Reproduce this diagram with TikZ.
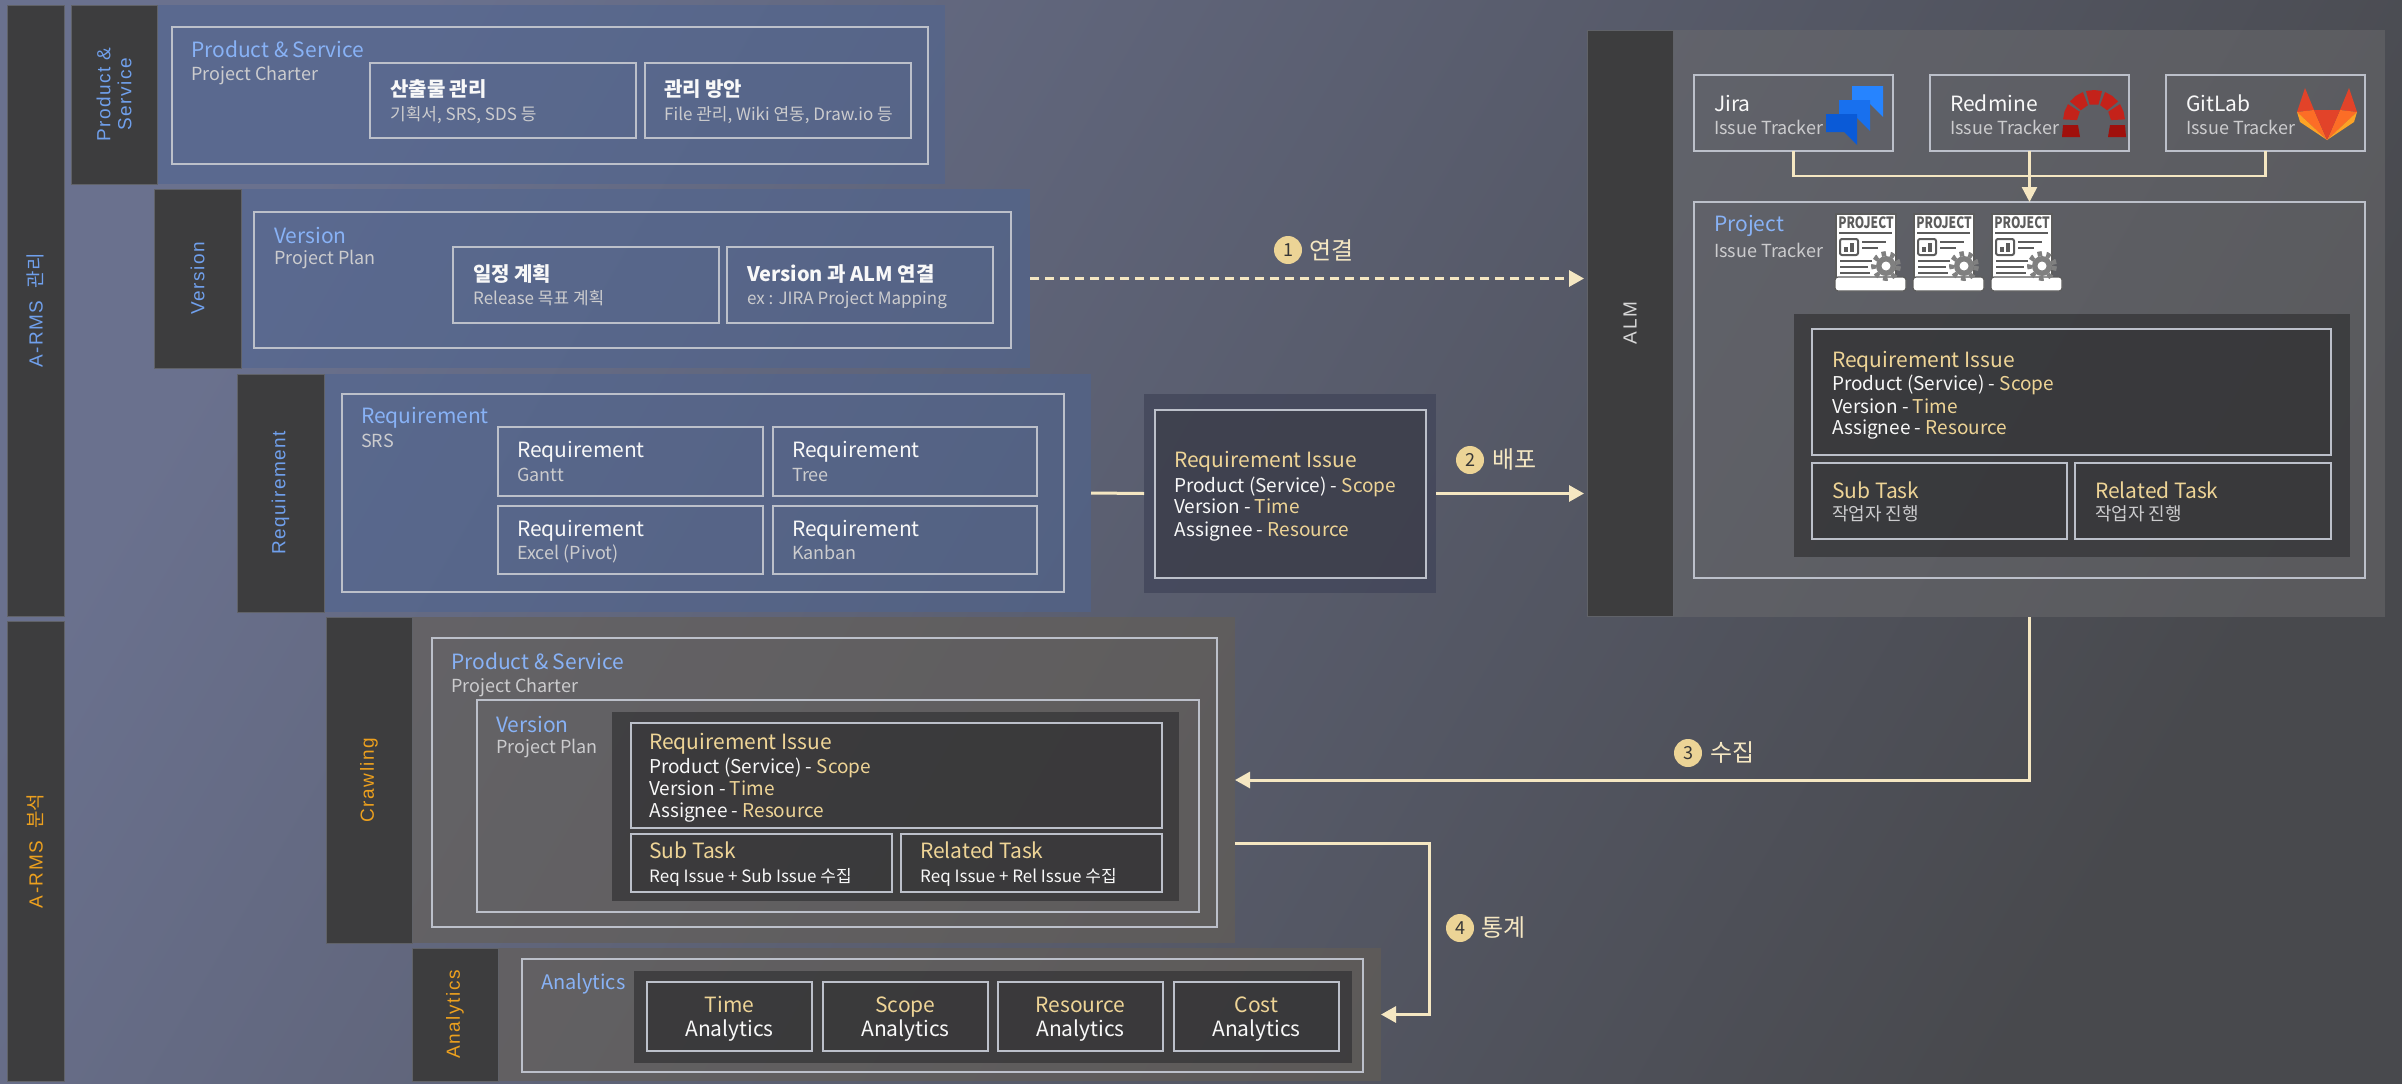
\documentclass[tikz,border=0pt]{standalone}
\usepackage{fontspec}
\usepackage{graphicx}
\setmainfont{Noto Sans CJK KR}
\newfontfamily\labfont{Liberation Sans}[LetterSpace=8]
\newfontfamily\labkr{Noto Sans CJK KR}
\usetikzlibrary{arrows.meta,calc}

\definecolor{bgA}{RGB}{106,113,142}
\definecolor{bgB}{RGB}{72,73,77}
\definecolor{barc}{RGB}{61,61,62}
\definecolor{barline}{RGB}{96,98,104}
\definecolor{bluep}{RGB}{78,100,145}
\definecolor{brownp}{RGB}{100,94,84}
\definecolor{grayp}{RGB}{108,108,110}
\definecolor{darkp}{RGB}{50,50,52}
\definecolor{midp}{RGB}{66,70,90}
\definecolor{frm}{RGB}{188,192,202}
\definecolor{ttlblue}{RGB}{136,178,246}
\definecolor{labblue}{RGB}{112,160,236}
\definecolor{orng}{RGB}{236,160,30}
\definecolor{gold}{RGB}{238,212,150}
\definecolor{cream}{RGB}{245,231,194}
\definecolor{subg}{RGB}{204,204,206}
\definecolor{wht}{RGB}{248,248,248}
\definecolor{badgec}{RGB}{236,212,150}
\definecolor{badgetxt}{RGB}{55,55,55}
\definecolor{docline}{RGB}{92,92,92}
\definecolor{gearc}{RGB}{128,128,128}
\definecolor{almtxt}{RGB}{215,215,215}
\definecolor{jiraA}{RGB}{38,132,255}
\definecolor{jiraB}{RGB}{24,112,238}
\definecolor{jiraC}{RGB}{10,90,215}
\definecolor{redA}{RGB}{196,34,26}
\definecolor{redB}{RGB}{160,16,12}
\definecolor{glA}{RGB}{226,67,41}
\definecolor{glB}{RGB}{252,109,38}
\definecolor{glC}{RGB}{252,163,38}

\newcommand\fT{\fontsize{21}{25}\selectfont}
\newcommand\fS{\fontsize{18}{22}\selectfont}
\newcommand\fB{\fontsize{21}{25}\selectfont}
\newcommand\fK{\fontsize{20}{24}\selectfont\bfseries}
\newcommand\fR{\fontsize{17}{21}\selectfont}
\newcommand\fI{\fontsize{19}{22}\selectfont}
\newcommand\fL{\fontsize{19}{21}\selectfont\labfont}

\newcommand\mkbox[6]{\node[#6, anchor=north west, inner sep=0pt, outer sep=0pt, minimum width={(#4)-(#2)}, minimum height={(#5)-(#3)}] (#1) at (#2,#3) {};}
\newcommand\tx[6]{\node[anchor=base west, inner sep=0pt, text=#4, font=#5] (#1) at (#2,#3) {#6};}

\tikzset{
 bar/.style={fill=barc, draw=barline, line width=1pt},
 bluepanel/.style={fill=bluep, fill opacity=0.55},
 brownpanel/.style={fill=brownp, fill opacity=0.6},
 graypanel/.style={fill=grayp, fill opacity=0.5},
 frame/.style={draw=frm, line width=1.4pt},
 darkpanel/.style={fill=darkp, fill opacity=0.7},
 midpanel/.style={fill=midp, fill opacity=0.8},
 darkbox/.style={fill=darkp, fill opacity=0.35, draw=frm, line width=1.4pt},
 vlab/.style={rotate=90, inner sep=0pt, align=center},
 conn/.style={draw=cream, line width=3pt},
 arr/.style={conn, -{Triangle[length=15pt,width=16pt]}},
 badge/.style={circle, fill=badgec, inner sep=0pt, minimum size=28pt, text=badgetxt, font=\fontsize{18}{18}\selectfont},
 steplab/.style={anchor=west, inner sep=0pt, text=cream, font=\fontsize{24}{24}\selectfont},
}

\begin{document}
\begin{tikzpicture}[x=1pt,y=-1pt]
\useasboundingbox (0,0) rectangle (2402,1084);
\shade[top color=bgA, bottom color=bgB, shading angle=60] (0,0) rectangle (2402,1084);

% ---------- panels ----------
\mkbox{pspanel}{157}{5}{945}{184}{bluepanel}
\mkbox{verpanel}{241}{189}{1030}{368}{bluepanel}
\mkbox{reqpanel}{324}{374}{1091}{612}{bluepanel}
\mkbox{crpanel}{412}{617}{1235}{943}{brownpanel}
\mkbox{anpanel}{498}{948}{1381}{1081}{brownpanel}
\mkbox{almpanel}{1673}{30}{2385}{617}{graypanel}

% ---------- bars ----------
\mkbox{armsA}{7}{5}{64}{616}{bar}
\mkbox{armsB}{7}{621}{64}{1081}{bar}
\mkbox{psbar}{71}{5}{157}{184}{bar}
\mkbox{verbar}{154}{189}{241}{368}{bar}
\mkbox{reqbar}{237}{374}{324}{612}{bar}
\mkbox{crbar}{326}{617}{412}{943}{bar}
\mkbox{anbar}{412}{948}{498}{1081}{bar}
\mkbox{almbar}{1587}{30}{1673}{616}{bar}

\node[vlab, text=labblue, font=\fL] (labA) at (armsA.center) {A-RMS\hspace{12pt}{\labkr 관리}};
\node[vlab, text=orng, font=\fL] (labB) at (armsB.center) {A-RMS\hspace{12pt}{\labkr 분석}};
\node[vlab, text=labblue, font=\fL] (labPS) at (psbar.center) {Product \&\\Service};
\node[vlab, text=labblue, font=\fL] (labV) at (verbar.center) {Version};
\node[vlab, text=labblue, font=\fL] (labR) at (reqbar.center) {Requirement};
\node[vlab, text=orng, font=\fL] (labC) at (crbar.center) {Crawling};
\node[vlab, text=orng, font=\fL] (labAn) at (anbar.center) {Analytics};
\node[vlab, text=almtxt, font=\fL] (labALM) at (almbar.center) {ALM};

% ---------- Product & Service ----------
\mkbox{psframe}{172}{27}{928}{164}{frame}
\mkbox{psb1}{370}{63}{636}{138}{frame}
\mkbox{psb2}{645}{63}{911}{138}{frame}
\tx{pst}{191}{57}{ttlblue}{\fT}{Product \& Service}
\tx{pss}{191}{80}{subg}{\fS}{Project Charter}
\tx{b1t}{390}{96}{wht}{\fK}{산출물 관리}
\tx{b1s}{390}{120}{subg}{\fR}{기획서, SRS, SDS 등}
\tx{b2t}{664}{96}{wht}{\fK}{관리 방안}
\tx{b2s}{664}{120}{subg}{\fR}{File 관리, Wiki 연동, Draw.io 등}

% ---------- Version ----------
\mkbox{verframe}{254}{212}{1011}{348}{frame}
\mkbox{vb1}{453}{247}{719}{323}{frame}
\mkbox{vb2}{727}{247}{993}{323}{frame}
\tx{vt}{274}{243}{ttlblue}{\fT}{Version}
\tx{vs}{274}{264}{subg}{\fS}{Project Plan}
\tx{v1t}{473}{281}{wht}{\fK}{일정 계획}
\tx{v1s}{473}{304}{subg}{\fR}{Release 목표 계획}
\tx{v2t}{747}{281}{wht}{\fK}{Version 과 ALM 연결}
\tx{v2s}{747}{304}{subg}{\fR}{ex : JIRA Project Mapping}

% ---------- Requirement ----------
\mkbox{reqframe}{342}{394}{1064}{592}{frame}
\mkbox{rb1}{498}{427}{763}{496}{frame}
\mkbox{rb2}{773}{427}{1037}{496}{frame}
\mkbox{rb3}{498}{506}{763}{574}{frame}
\mkbox{rb4}{773}{506}{1037}{574}{frame}
\tx{rt}{361}{423}{ttlblue}{\fT}{Requirement}
\tx{rs}{361}{447}{subg}{\fS}{SRS}
\tx{r1t}{517}{457}{wht}{\fB}{Requirement}
\tx{r1s}{517}{481}{subg}{\fS}{Gantt}
\tx{r2t}{792}{457}{wht}{\fB}{Requirement}
\tx{r2s}{792}{481}{subg}{\fS}{Tree}
\tx{r3t}{517}{536}{wht}{\fB}{Requirement}
\tx{r3s}{517}{559}{subg}{\fS}{Excel (Pivot)}
\tx{r4t}{792}{536}{wht}{\fB}{Requirement}
\tx{r4s}{792}{559}{subg}{\fS}{Kanban}

% ---------- middle Requirement Issue ----------
\mkbox{riouter}{1144}{394}{1436}{593}{midpanel}
\mkbox{riinner}{1155}{410}{1426}{578}{darkbox}
\tx{mit}{1174}{467}{gold}{\fT}{Requirement Issue}
\tx{mi1}{1174}{492}{wht}{\fI}{Product (Service) - \textcolor{gold}{Scope}}
\tx{mi2}{1174}{513}{wht}{\fI}{Version - \textcolor{gold}{Time}}
\tx{mi3}{1174}{536}{wht}{\fI}{Assignee - \textcolor{gold}{Resource}}

% ---------- ALM ----------
\mkbox{jira}{1694}{75}{1893}{151}{frame}
\mkbox{redmine}{1930}{75}{2129}{151}{frame}
\mkbox{gitlab}{2166}{75}{2365}{151}{frame}
\mkbox{project}{1694}{202}{2365}{578}{frame}
\mkbox{aldark}{1794}{314}{2350}{557}{darkpanel}
\mkbox{alri}{1812}{329}{2331}{455}{darkbox}
\mkbox{alsub}{1812}{463}{2067}{539}{darkbox}
\mkbox{alrel}{2075}{463}{2331}{539}{darkbox}
\tx{jt}{1714}{111}{wht}{\fB}{Jira}
\tx{js}{1714}{134}{subg}{\fS}{Issue Tracker}
\tx{rmt}{1950}{111}{wht}{\fB}{Redmine}
\tx{rms}{1950}{134}{subg}{\fS}{Issue Tracker}
\tx{glt}{2186}{111}{wht}{\fB}{GitLab}
\tx{gls}{2186}{134}{subg}{\fS}{Issue Tracker}
\tx{prt}{1714}{231}{ttlblue}{\fT}{Project}
\tx{prs}{1714}{257}{subg}{\fS}{Issue Tracker}
\tx{ait}{1832}{367}{gold}{\fT}{Requirement Issue}
\tx{ai1}{1832}{390}{wht}{\fI}{Product (Service) - \textcolor{gold}{Scope}}
\tx{ai2}{1832}{413}{wht}{\fI}{Version - \textcolor{gold}{Time}}
\tx{ai3}{1832}{434}{wht}{\fI}{Assignee - \textcolor{gold}{Resource}}
\tx{ast}{1832}{498}{gold}{\fT}{Sub Task}
\tx{ass}{1832}{520}{subg}{\fS}{작업자 진행}
\tx{art}{2095}{498}{gold}{\fT}{Related Task}
\tx{ars}{2095}{520}{subg}{\fS}{작업자 진행}

% ---------- Crawling ----------
\mkbox{crframe}{432}{638}{1217}{927}{frame}
\mkbox{crver}{477}{700}{1199}{912}{frame}
\mkbox{crdark}{612}{712}{1179}{901}{darkpanel}
\mkbox{crri}{631}{723}{1162}{828}{darkbox}
\mkbox{crsub}{631}{834}{892}{892}{darkbox}
\mkbox{crrel}{901}{834}{1162}{892}{darkbox}
\tx{cpt}{451}{669}{ttlblue}{\fT}{Product \& Service}
\tx{cps}{451}{692}{subg}{\fS}{Project Charter}
\tx{cvt}{496}{732}{ttlblue}{\fT}{Version}
\tx{cvs}{496}{753}{subg}{\fS}{Project Plan}
\tx{cit}{649}{749}{gold}{\fT}{Requirement Issue}
\tx{ci1}{649}{773}{wht}{\fI}{Product (Service) - \textcolor{gold}{Scope}}
\tx{ci2}{649}{795}{wht}{\fI}{Version - \textcolor{gold}{Time}}
\tx{ci3}{649}{817}{wht}{\fI}{Assignee - \textcolor{gold}{Resource}}
\tx{cst}{649}{858}{gold}{\fT}{Sub Task}
\tx{css}{649}{882}{wht}{\fR}{Req Issue + Sub Issue 수집}
\tx{crt}{920}{858}{gold}{\fT}{Related Task}
\tx{crs}{920}{882}{wht}{\fR}{Req Issue + Rel Issue 수집}

% ---------- Analytics ----------
\mkbox{anframe}{522}{959}{1363}{1072}{frame}
\mkbox{andark}{634}{971}{1352}{1063}{darkpanel}
\mkbox{at1}{647}{982}{812}{1051}{darkbox}
\mkbox{at2}{823}{982}{988}{1051}{darkbox}
\mkbox{at3}{998}{982}{1163}{1051}{darkbox}
\mkbox{at4}{1174}{982}{1339}{1051}{darkbox}
\tx{ant}{541}{989}{ttlblue}{\fontsize{20}{24}\selectfont}{Analytics}
\node[anchor=base, inner sep=0pt, text=gold, font=\fB] (a1a) at (729.5,1012) {Time};
\node[anchor=base, inner sep=0pt, text=wht, font=\fB] (a1b) at (729.5,1036) {Analytics};
\node[anchor=base, inner sep=0pt, text=gold, font=\fB] (a2a) at (905.5,1012) {Scope};
\node[anchor=base, inner sep=0pt, text=wht, font=\fB] (a2b) at (905.5,1036) {Analytics};
\node[anchor=base, inner sep=0pt, text=gold, font=\fB] (a3a) at (1080.5,1012) {Resource};
\node[anchor=base, inner sep=0pt, text=wht, font=\fB] (a3b) at (1080.5,1036) {Analytics};
\node[anchor=base, inner sep=0pt, text=gold, font=\fB] (a4a) at (1256.5,1012) {Cost};
\node[anchor=base, inner sep=0pt, text=wht, font=\fB] (a4b) at (1256.5,1036) {Analytics};

% ---------- connectors ----------
\draw[conn] (reqpanel.east) -- (riouter.west);
\draw[arr, shorten >=3pt] (riouter.east) -- (riouter.east -| almbar.west);
\draw[arr, shorten >=3pt, dash pattern=on 9pt off 6pt] (verpanel.east) -- (verpanel.east -| almbar.west);
\draw[arr] (almpanel.south) |- (crpanel.east);
\coordinate (c4) at ([yshift=-63pt]crpanel.east);
\draw[arr] (c4) -- ++(194,0) |- (anpanel.east);
\coordinate (bus) at (2029,176);
\draw[conn, line width=2.5pt] (jira.south) -- (jira.south |- bus) -- (gitlab.south |- bus) -- (gitlab.south);
\draw[conn, line width=2.5pt, -{Triangle[length=15pt,width=15pt]}] (redmine.south) -- (project.north);

\node[badge] (bd1) at (1288,250) {1};
\node[steplab] (st1) at (1309,250) {연결};
\node[badge] (bd2) at (1470,460) {2};
\node[steplab] (st2) at (1492,460) {배포};
\node[badge] (bd3) at (1688,753) {3};
\node[steplab] (st3) at (1710,753) {수집};
\node[badge] (bd4) at (1460,928) {4};
\node[steplab] (st4) at (1481,928) {통계};

% ---------- Jira icon ----------
\begin{scope}[shift={(1826,86)}]
 \fill[jiraA] (26,0) -- (57,0) -- (57,31) -- (44,18) -- (26,18) -- cycle;
 \fill[jiraB] (13,14) -- (44,14) -- (44,45) -- (31,32) -- (13,32) -- cycle;
 \fill[jiraC] (0,28) -- (31,28) -- (31,59) -- (18,46) -- (0,46) -- cycle;
\end{scope}

% ---------- Redmine icon ----------
\foreach \a in {180,216,252,288,324} {
  \pgfmathsetmacro\b{\a+30}
  \fill[redA] ({2094+31*cos(\a+3)},{121+31*sin(\a+3)}) -- ({2094+31*cos((\a+\b)/2+3)},{121+31*sin((\a+\b)/2+3)}) -- ({2094+31*cos(\b+3)},{121+31*sin(\b+3)}) -- ({2094+17*cos(\b+3)},{121+17*sin(\b+3)}) -- ({2094+17*cos(\a+3)},{121+17*sin(\a+3)}) -- cycle;
}
\fill[redB] (2063,125) -- (2078,125) -- (2080,137) -- (2062,137) -- cycle;
\fill[redB] (2110,125) -- (2125,125) -- (2126,137) -- (2108,137) -- cycle;

% ---------- GitLab icon ----------
\fill[glA] (2297,112) -- (2305,88) -- (2314,110) -- cycle;
\fill[glA] (2357,112) -- (2349,88) -- (2340,110) -- cycle;
\fill[glB] (2297,112) -- (2314,110) -- (2327,140) -- cycle;
\fill[glB] (2357,112) -- (2340,110) -- (2327,140) -- cycle;
\fill[glA] (2314,110) -- (2340,110) -- (2327,140) -- cycle;
\fill[glC] (2297,112) -- (2300,122) -- (2327,140) -- cycle;
\fill[glC] (2357,112) -- (2354,122) -- (2327,140) -- cycle;

% ---------- project documents ----------
\foreach \i/\x in {1/1834,2/1912,3/1990} {
 \begin{scope}[shift={(\x,214)}]
  \fill[white] (2,0) rectangle (62,68);
  \draw[docline, line width=1.2pt] (2,0) rectangle (62,68);
  \draw[fill=white, draw=docline, line width=1.2pt, rounded corners=3pt] (1,63) rectangle (72,77);
  \node[inner sep=0pt, text=docline] (pj\i) at (32,9) {\scalebox{1}[1.3]{\fontsize{12}{12}\selectfont\bfseries PROJECT}};
  \draw[docline, line width=2pt] (5,19) -- (58,19);
  \draw[docline, line width=2pt, rounded corners=2pt] (6,25) rectangle (24,41);
  \fill[docline] (10,33) rectangle (14,38);
  \fill[docline] (16,29) rectangle (20,38);
  \draw[docline, line width=2pt] (28,28) -- (52,28) (28,34) -- (44,34);
  \draw[docline, line width=2pt] (6,47) -- (38,47) (6,53) -- (34,53) (6,59) -- (36,59);
  \fill[gearc] (52,52) circle (10);
  \draw[gearc, line width=5pt, dash pattern=on 4.5pt off 4.5pt] (52,52) circle (12.5);
  \fill[white] (52,52) circle (4.5);
 \end{scope}
}
\end{tikzpicture}
\end{document}
